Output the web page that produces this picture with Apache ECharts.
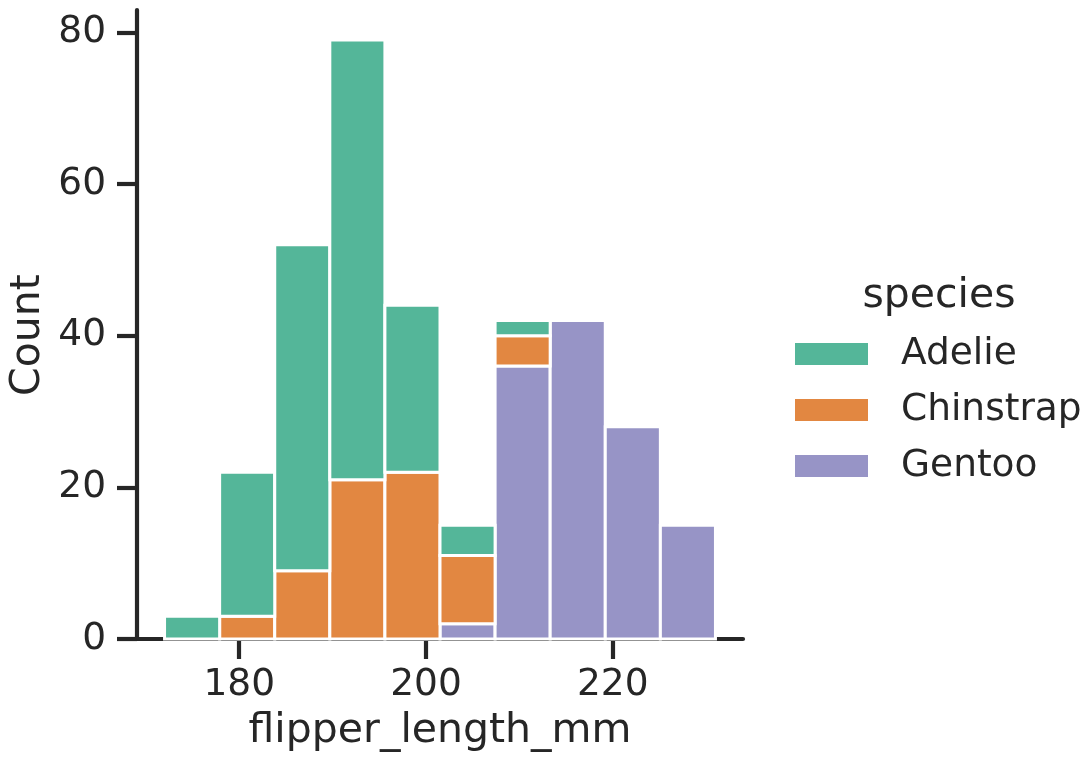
<!DOCTYPE html>
<html>
<head>
<meta charset="utf-8">
<script src="https://cdn.jsdelivr.net/npm/echarts@6/dist/echarts.min.js"></script>
<style>
  html, body { margin: 0; padding: 0; background: #fff; }
  #chart { width: 1090px; height: 757px; }
</style>
</head>
<body>
<div id="chart"></div>
<script>
// Histogram of penguin flipper lengths, stacked by species
const binEdges = [172, 177.9, 183.8, 189.7, 195.6, 201.5, 207.4, 213.3, 219.2, 225.1, 231];
const species = ['Adelie', 'Chinstrap', 'Gentoo'];
const adelie    = [3, 19, 43, 58, 22, 4, 2, 0, 0, 0];
const chinstrap = [0, 3, 9, 21, 22, 9, 4, 0, 0, 0];
const gentoo    = [0, 0, 0, 0, 0, 2, 36, 42, 28, 15];
const xTicks = [180, 200, 220];
const yTicks = [0, 20, 40, 60, 80];

const colors = { Adelie: '#54b699', Chinstrap: '#e28741', Gentoo: '#9794c6' };
const counts = { Adelie: adelie, Chinstrap: chinstrap, Gentoo: gentoo };
// stacked bottom to top
const stackOrder = ['Gentoo', 'Chinstrap', 'Adelie'];

const FONT = 'DejaVu Sans';
const INK = '#262626';

const base = binEdges.slice(1).map(() => 0);
const series = stackOrder.map(name => {
  const vals = counts[name];
  const data = vals.map((v, i) => {
    const d = [binEdges[i], binEdges[i + 1], base[i], base[i] + v];
    base[i] += v;
    return d;
  });
  return {
    name: name,
    type: 'custom',
    itemStyle: { color: colors[name] },
    encode: { x: [0, 1], y: [2, 3] },
    data: data,
    renderItem: function (params, api) {
      const lo = api.value(2), hi = api.value(3);
      if (hi <= lo) return null;
      const p0 = api.coord([api.value(0), lo]);
      const p1 = api.coord([api.value(1), hi]);
      return {
        type: 'rect',
        shape: { x: p0[0], y: p1[1], width: p1[0] - p0[0], height: p0[1] - p1[1] },
        style: { fill: colors[name], stroke: '#ffffff', lineWidth: 3 }
      };
    }
  };
});

const pad = (binEdges[binEdges.length - 1] - binEdges[0]) * 0.05;
const yMax = Math.max(...base) * 1.05;

const chart = echarts.init(document.getElementById('chart'), null, { renderer: 'canvas' });
chart.setOption({
  animation: false,
  backgroundColor: '#ffffff',
  textStyle: { fontFamily: FONT, color: INK },
  grid: { left: 137, right: 347, top: 10, bottom: 118, containLabel: false },
  xAxis: {
    type: 'value',
    min: binEdges[0] - pad,
    max: binEdges[binEdges.length - 1] + pad,
    splitLine: { show: false },
    axisLine: { show: true, lineStyle: { color: INK, width: 4.2 } },
    axisTick: { show: true, length: 20, inside: false, customValues: xTicks, lineStyle: { color: INK, width: 4.2 } },
    axisLabel: { customValues: xTicks, margin: 27, fontSize: 37.5, fontFamily: FONT, color: INK }
  },
  yAxis: {
    type: 'value',
    min: 0,
    max: yMax,
    splitLine: { show: false },
    axisLine: { show: true, lineStyle: { color: INK, width: 4.2 } },
    axisTick: { show: true, length: 20, inside: false, customValues: yTicks, lineStyle: { color: INK, width: 4.2 } },
    axisLabel: { customValues: yTicks, margin: 31, fontSize: 37.5, fontFamily: FONT, color: INK }
  },
  legend: {
    data: species,
    orient: 'vertical',
    left: 795,
    top: 334,
    padding: 0,
    itemGap: 16,
    itemWidth: 73,
    itemHeight: 22,
    icon: 'rect',
    itemStyle: { borderWidth: 0 },
    textStyle: { fontSize: 37.5, fontFamily: FONT, color: INK, lineHeight: 40, padding: [0, 0, 0, 28] }
  },
  graphic: [
    {
      type: 'text', x: 939, y: 296,
      style: { text: 'species', font: '41px "DejaVu Sans"', fill: INK, align: 'center', verticalAlign: 'middle' }
    },
    {
      type: 'text', x: 440, y: 731,
      style: { text: 'flipper_length_mm', font: '41px "DejaVu Sans"', fill: INK, align: 'center', verticalAlign: 'middle' }
    },
    {
      type: 'text', x: 28, y: 335, rotation: Math.PI / 2,
      style: { text: 'Count', font: '41px "DejaVu Sans"', fill: INK, align: 'center', verticalAlign: 'middle' }
    }
  ],
  series: series
});
</script>
</body>
</html>
